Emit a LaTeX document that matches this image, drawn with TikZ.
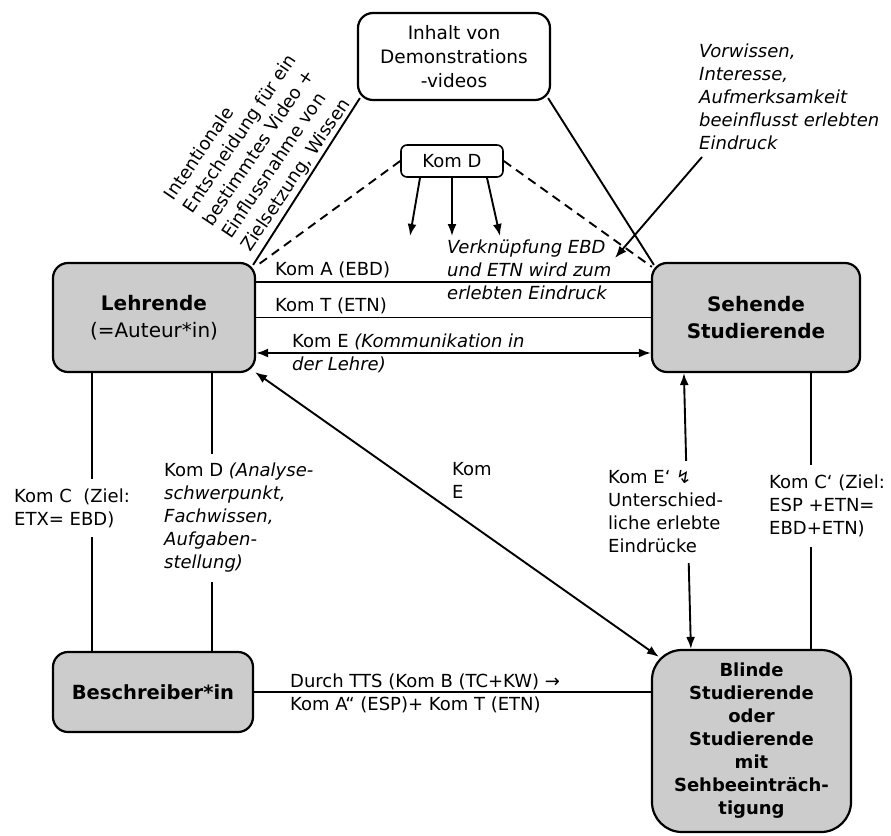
\documentclass[tikz,border=0pt]{standalone}
\usepackage{fontspec}
\setmainfont{DejaVu Sans}
\usetikzlibrary{arrows.meta,calc}
\definecolor{boxgray}{gray}{0.8}

\begin{document}
\begin{tikzpicture}[x=1pt,y=-1pt,
  box/.style={draw, line width=2.2pt, fill=boxgray, rounded corners=15pt,
              align=center, inner sep=0pt},
  conn/.style={line width=1.9pt},
  tip/.style={conn, -{Latex[length=12pt,width=9pt]}},
  twotip/.style={conn, {Latex[length=12pt,width=9pt]}-{Latex[length=12pt,width=9pt]}},
  txt/.style={font=\fontsize{18}{23}\selectfont, align=left, inner sep=0pt},
  cut/.style={txt, fill=white, inner xsep=2pt}
]
\useasboundingbox (0,0) rectangle (891,835);

% actors
\node[box, minimum width=202pt, minimum height=109pt,
      font=\fontsize{20}{27}\selectfont] (L) at (154,317.5)
      {\textbf{Lehrende}\\(=Auteur*in)};
\node[box, minimum width=208pt, minimum height=109pt,
      font=\fontsize{20}{27}\selectfont] (S) at (756,317.5)
      {\textbf{Sehende}\\\textbf{Studierende}};
\node[box, minimum width=200pt, minimum height=80pt,
      font=\fontsize{19.5}{23}\selectfont\bfseries] (Be) at (153,692)
      {Beschreiber*in};
\node[box, rounded corners=30pt, minimum width=199pt, minimum height=182pt,
      font=\fontsize{18}{23}\selectfont\bfseries] (Bl) at (751.5,741)
      {Blinde\\Studierende\\oder\\Studierende\\mit\\Sehbeeinträch-\\tigung};

% content and competence
\node[box, fill=white, minimum width=192pt, minimum height=87pt,
      font=\fontsize{18.5}{24}\selectfont] (I) at (454,56.5)
      {Inhalt von\\Demonstrations\\-videos};
\node[draw, line width=1.6pt, rounded corners=6pt, minimum width=102pt,
      minimum height=32pt, inner sep=0pt, font=\fontsize{18}{23}\selectfont]
      (KD) at (452,161) {Kom D};

% triangle sides from the video content
\draw[conn] ([shift={(3pt,3pt)}]I.south west) -- ([shift={(-3pt,-3pt)}]L.north east);
\draw[conn] ([shift={(-3pt,3pt)}]I.south east) -- ([shift={(3pt,-3pt)}]S.north west);
\draw[conn, dashed, dash pattern=on 9pt off 6pt] (KD.west) -- ([shift={(-1pt,-5pt)}]L.north east);
\draw[conn, dashed, dash pattern=on 9pt off 6pt] (KD.east) -- ([shift={(1pt,-5pt)}]S.north west);

% Kom D acting downwards
\coordinate (d1) at (410,236);
\coordinate (d2) at (452,236);
\coordinate (d3) at (500,236);
\draw[tip] ([xshift=-32pt]KD.south) -- (d1);
\draw[tip] (KD.south) -- (d2);
\draw[tip] ([xshift=35pt]KD.south) -- (d3);

% rotated note along the left side
\node[txt, rotate=56] (intent) at (260,147)
  {Intentionale\\Entscheidung für ein\\bestimmtes Video +\\Einflussnahme von\\Zielsetzung, Wissen};

% prior knowledge note
\node[txt, anchor=west, font=\fontsize{18}{23}\selectfont\itshape] (V) at (699,97)
  {Vorwissen,\\Interesse,\\Aufmerksamkeit\\beeinflusst erlebten\\Eindruck};
\coordinate (v1) at (702,157);
\coordinate (v2) at (615,258);
\draw[tip] (v1) -- (v2);

\node[txt, anchor=west, font=\fontsize{18}{23}\selectfont\itshape] (VE) at (447,270)
  {Verknüpfung EBD\\und ETN wird zum\\erlebten Eindruck};

% horizontal links between Lehrende and Sehende
\draw[conn] ([yshift=35.5pt]L.east) -- ([yshift=35.5pt]L.east -| S.west);
\draw[conn] (L.east) -- (L.east -| S.west);
\draw[twotip] ([yshift=-35.5pt]L.east) -- ([yshift=-35.5pt]L.east -| S.west);
\node[txt, anchor=west] (ka) at (275,270) {Kom A (EBD)};
\node[txt, anchor=west] (kt) at (275,306) {Kom T (ETN)};
\node[txt, anchor=west] (ke) at (292,353) {Kom E \textit{(Kommunikation in}\\\textit{der Lehre)}};

% diagonal Kom E
\draw[twotip] ([shift={(-1pt,1pt)}]L.south east) -- ([shift={(8pt,-8pt)}]Bl.north west);
\node[txt, anchor=west] (ke2) at (452,480) {Kom\\E};

% Lehrende to Beschreiber
\draw[conn] ([xshift=40pt]L.south west) -- ([xshift=40pt]Be.north west);
\draw[conn] ([xshift=160pt]L.south west) -- ([xshift=160pt]Be.north west);
\node[cut, anchor=west, inner ysep=9pt] (kc) at (12,508) {Kom C\ \ (Ziel:\\ETX= EBD)};
\node[cut, anchor=west, inner ysep=9pt] (kd) at (162,518)
  {Kom D \textit{(Analyse-}\\\textit{schwerpunkt,}\\\textit{Fachwissen,}\\\textit{Aufgaben-}\\\textit{stellung)}};

% Sehende to Blinde
\draw[twotip] ([xshift=33pt]S.south west) -- ([xshift=40pt]Bl.north west);
\draw[conn] ([xshift=160pt]S.south west) -- ([xshift=160pt]Bl.north west);
\node[cut, anchor=west, inner ysep=10pt] (kee) at (606,512)
  {Kom E‘ ↯\\Unterschied-\\liche erlebte\\Eindrücke};
\node[cut, anchor=west, inner ysep=10pt] (kcc) at (767,506)
  {Kom C‘ (Ziel:\\ESP +ETN=\\EBD+ETN)};

% Beschreiber to Blinde
\draw[conn] (Be.east) -- (Be.east -| Bl.west);
\node[txt, anchor=west] (tts) at (290,693)
  {Durch TTS (Kom B (TC+KW) →\\Kom A“ (ESP)+ Kom T (ETN)};
\end{tikzpicture}
\end{document}
